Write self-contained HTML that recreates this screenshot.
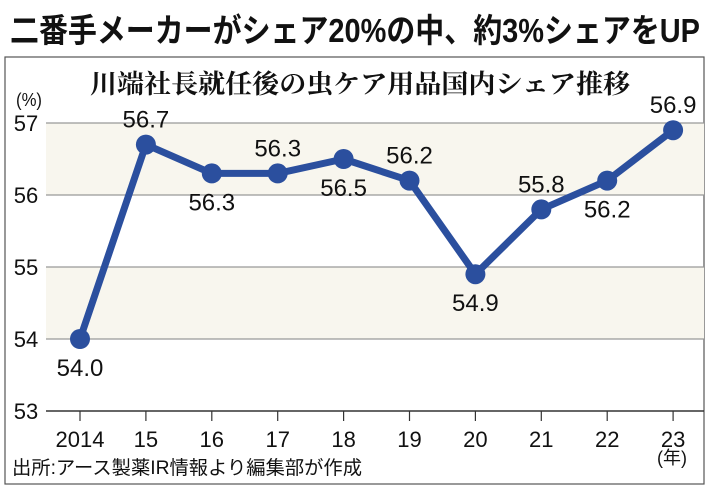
<!DOCTYPE html>
<html><head><meta charset="utf-8">
<style>
body{margin:0;background:#fff;}
svg text{font-family:"Liberation Sans","Noto Sans CJK JP",sans-serif;}
</style></head>
<body>
<svg id="c" width="710" height="493" viewBox="0 0 710 493">
<text x="355" y="42" text-anchor="middle" font-size="33" font-weight="bold" fill="#111" textLength="690" lengthAdjust="spacingAndGlyphs">二番手メーカーがシェア20%の中、約3%シェアをUP</text>
<rect x="5" y="57" width="699" height="427" fill="none" stroke="#555" stroke-width="1.2"/>
<text x="360" y="93" text-anchor="middle" font-size="26" font-weight="bold" fill="#111" style="font-family:'Noto Serif CJK SC',serif" textLength="540" lengthAdjust="spacingAndGlyphs">川端社長就任後の虫ケア用品国内シェア推移</text>
<text x="29" y="106" text-anchor="middle" font-size="18" fill="#111" textLength="26" lengthAdjust="spacingAndGlyphs">(%)</text>
<text x="672" y="464" text-anchor="middle" font-size="18" fill="#111">(年)</text>
<text x="12" y="474" font-size="19" fill="#111" textLength="350" lengthAdjust="spacingAndGlyphs">出所:アース製薬IR情報より編集部が作成</text>
<g id="g"></g>
</svg>
<script>
const years=["2014","15","16","17","18","19","20","21","22","23"];
const shares=[54.0,56.7,56.3,56.3,56.5,56.2,54.9,55.8,56.2,56.9];
const labelPos=["below","above","below","above","below","above","below","above","below","above"];
const yTicks=[53,54,55,56,57];
const NS="http://www.w3.org/2000/svg";
const g=document.getElementById('g');
const x=i=>80+i*65.9;
const y=v=>411-(v-53)*72;
function mk(t,a){const e=document.createElementNS(NS,t);for(const k in a)e.setAttribute(k,a[k]);g.appendChild(e);return e;}
for(let k=0;k<yTicks.length-1;k++){
  if(k%2===1){const b=mk('rect',{x:46,y:y(yTicks[k+1]),width:658,height:y(yTicks[k])-y(yTicks[k+1]),fill:'#f8f6ee'});
  
  }
}
yTicks.forEach(v=>{
  const l=mk('line',{x1:46,x2:704,y1:y(v),y2:y(v),stroke:v===53?'#333':'#999','stroke-width':v===53?1.5:1.2});
  
  
  const t=mk('text',{x:26,y:y(v)+8,'text-anchor':'middle','font-size':22,fill:'#111'});
  t.textContent=v;
  
  
});
years.forEach((yr,i)=>{
  const tk=mk('line',{x1:x(i),x2:x(i),y1:411,y2:421,stroke:'#333','stroke-width':1.2});
  
  
  const t=mk('text',{x:x(i),y:447,'text-anchor':'middle','font-size':22,fill:'#111'});
  t.textContent=yr;
  
  
});
const pl=mk('polyline',{points:shares.map((v,i)=>x(i)+','+y(v)).join(' '),fill:'none',stroke:'#2b4f9e','stroke-width':7,'stroke-linejoin':'round'});


shares.forEach((v,i)=>{
  const c=mk('circle',{cx:x(i),cy:y(v),r:10,fill:'#2b4f9e'});
  
  
  const t=mk('text',{x:x(i),y:labelPos[i]==='above'?y(v)-17:y(v)+37,'text-anchor':'middle','font-size':24,fill:'#111'});
  t.textContent=v.toFixed(1);
  
  
});
</script>
</body></html>
